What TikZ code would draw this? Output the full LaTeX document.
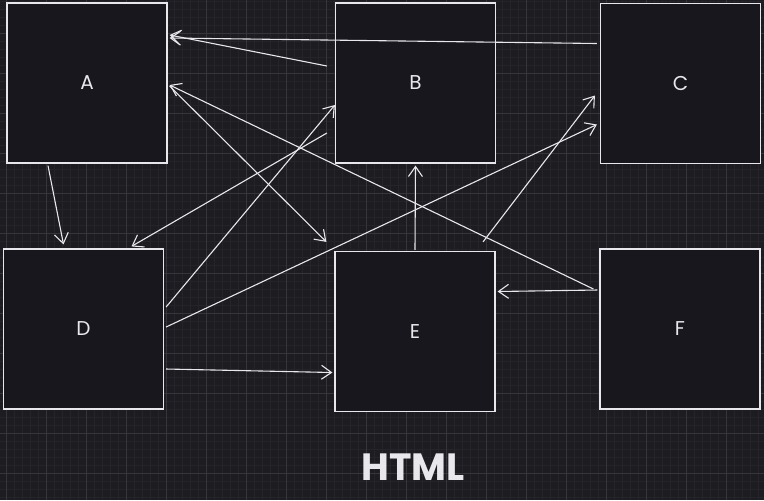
\documentclass[tikz,border=0pt]{standalone}
\usepackage{fontspec}
\usepackage{xcolor}
\usepackage{tikz}
\usetikzlibrary{
    positioning,
    calc,
    arrows.meta
}
\newfontfamily\handfont{Poppins}
\definecolor{canvas}{HTML}{1D1C21}
\definecolor{gridminor}{HTML}{25242A}
\definecolor{gridmajor}{HTML}{36353B}
\definecolor{boxfill}{HTML}{18171E}
\definecolor{ink}{HTML}{E8E8EC}
\tikzset{
  block/.style = {
      draw=ink,
      fill=boxfill,
      line width=0.6pt,
      rectangle,
      minimum size=80pt,
      inner sep=0pt,
      font=\handfont\fontsize{10}{12}\selectfont,
      text=ink
  },
  link/.style = {
      draw=ink,
      line width=0.55pt,
      -{Straight Barb[length=5pt,width=7pt,line width=0.55pt]}
  },
  caption/.style = {
      font=\handfont\bfseries\fontsize{19}{22}\selectfont,
      text=ink
  }
}

\begin{document}
\begin{tikzpicture}[x=0.5pt,y=-0.5pt]
        % Canvas and grid
        \fill[canvas] (0,0) rectangle (764,500);
        \useasboundingbox (0,0) rectangle (764,500);
        \foreach \gx in {6,14,...,764} {\draw[gridminor, line width=0.3pt] (\gx,0) -- (\gx,500);}
        \foreach \gy in {1,9,...,500} {\draw[gridminor, line width=0.3pt] (0,\gy) -- (764,\gy);}
        \foreach \gx in {6,46,...,764} {\draw[gridmajor, line width=0.4pt] (\gx,0) -- (\gx,500);}
        \foreach \gy in {33,73,...,500} {\draw[gridmajor, line width=0.4pt] (0,\gy) -- (764,\gy);}
        % Nodes
        \node[block] (A) at (87,83) {A};
        \node[block] (B) at (415.5,83) {B};
        \node[block] (C) at (680.5,83.5) {C};
        \node[block] (D) at (83.5,329) {D};
        \node[block] (E) at (415,331.5) {E};
        \node[block] (F) at (680,329) {F};
        \node[caption] (title) at (413,467) {HTML};
        % Edges
        \draw[link] ($(C.west)+(-3,-40)$) -- ($(A.east)+(2,-45)$);
        \draw[link] ($(B.west)+(-8,-17)$) -- ($(A.east)+(2,-48)$);
        \draw[link] ($(F.west)+(-6,-40)$) -- ($(A.east)+(2,2)$);
        \draw[link] ($(A.east)+(2,3)$) -- ($(E.north west)+(-8,-9)$);
        \draw[link] ($(A.south)+(-39,2)$) -- ($(D.north)+(-20,-4)$);
        \draw[link] ($(B.west)+(-8,50)$) -- ($(D.north)+(48,-2)$);
        \draw[link] ($(D.east)+(2,-22)$) -- ($(B.west)+(0,22)$);
        \draw[link] ($(D.east)+(2,-2)$) -- ($(C.west)+(-3,41)$);
        \draw[link] ($(D.east)+(2,40)$) -- ($(E.west)+(-2,41)$);
        \draw[link] ($(E.north)+(0,-1)$) -- ($(B.south)+(0,2)$);
        \draw[link] ($(E.north)+(68,-9)$) -- ($(C.west)+(-5,12)$);
        \draw[link] ($(F.west)+(-2,-39)$) -- ($(E.east)+(2,-40)$);
    \end{tikzpicture}
\end{document}
